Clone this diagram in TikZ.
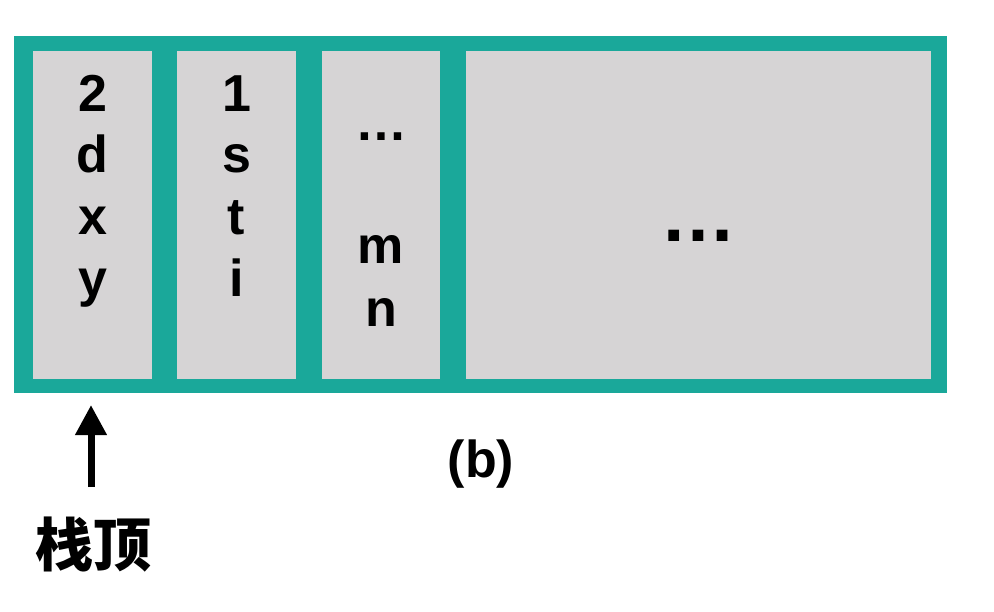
\documentclass[tikz,border=0pt]{standalone}
\usepackage{fontspec}
\setmainfont{Liberation Sans}
\newfontfamily\cjk{Noto Sans CJK SC}
\usetikzlibrary{arrows.meta}
\definecolor{teal1}{HTML}{1AA89A}
\definecolor{cellgray}{HTML}{D6D4D5}
\tikzset{
  cellbox/.style={fill=cellgray, draw=none},
  letter/.style={anchor=base, inner sep=0pt, font=\fontsize{52}{62}\selectfont\bfseries},
  bigdots/.style={anchor=base, inner sep=0pt, font=\fontsize{76}{80}\selectfont\bfseries},
  ptr/.style={line width=7pt, -{Triangle[width=30pt,length=30pt]}},
}
\begin{document}
\begin{tikzpicture}[x=1pt,y=-1pt]
\useasboundingbox (0,0) rectangle (994,612);
\fill[white] (0,0) rectangle (994,612);
\fill[teal1] (14,36) rectangle (947,393);
\fill[cellbox] (33,51) rectangle (152,379);
\fill[cellbox] (177,51) rectangle (296,379);
\fill[cellbox] (322,51) rectangle (440,379);
\fill[cellbox] (466,51) rectangle (931,379);
% column 1
\node[letter] (c1a) at (92.5,112) {2};
\node[letter] (c1b) at (92.5,173) {d};
\node[letter] (c1c) at (92.5,235) {x};
\node[letter] (c1d) at (92.5,297) {y};
% column 2
\node[letter] (c2a) at (236.5,112) {1};
\node[letter] (c2b) at (236.5,173) {s};
\node[letter] (c2c) at (236.5,235) {t};
\node[letter] (c2d) at (236.5,297) {i};
% column 3
\node[letter] (c3a) at (381,141) {…};
\node[letter] (c3b) at (381,264) {m};
\node[letter] (c3c) at (381,327) {n};
% column 4
\node[bigdots] (c4) at (698.5,242) {…};
% caption
\node[anchor=center, inner sep=0pt, font=\fontsize{52}{62}\selectfont\bfseries] (cap) at (481,464) {(b)};
% stack top
\node[anchor=center, inner sep=0pt, font=\fontsize{58}{64}\selectfont\cjk\bfseries] (top) at (93,545) {栈顶};
\coordinate (a0) at (91,487);
\coordinate (a1) at (91,405);
\draw[ptr] (a0) -- (a1);
\end{tikzpicture}
\end{document}
